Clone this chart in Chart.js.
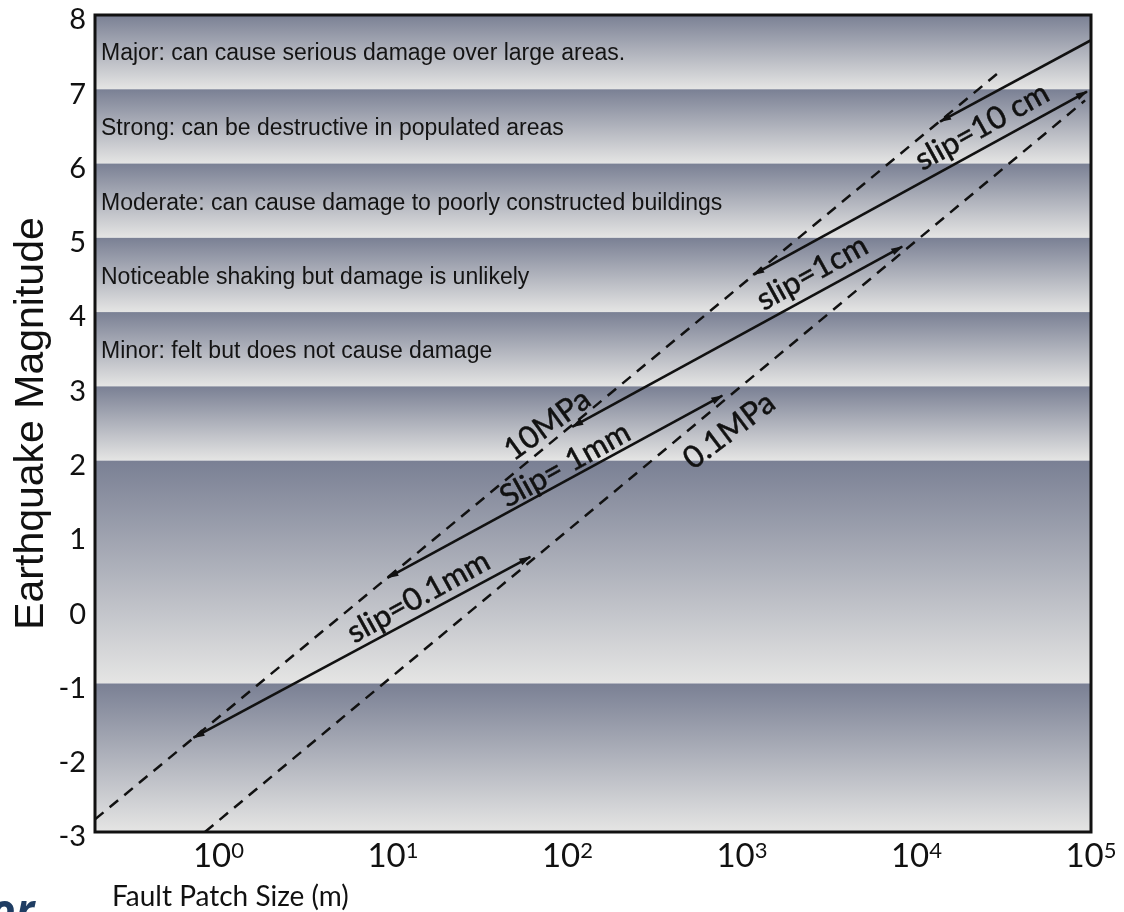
<!DOCTYPE html>
<html>
<head>
<meta charset="utf-8">
<script src="https://cdn.jsdelivr.net/npm/chart.js@4.4.1/dist/chart.umd.min.js"></script>
<style>
  html, body { margin: 0; padding: 0; background: #ffffff; }
  canvas { display: block; }
</style>
</head>
<body>
<canvas id="quakeChart" width="1124" height="912"></canvas>
<script>
// ---- magnitude bands (upper edge first) ----
const bandEdges = [8, 7, 6, 5, 4, 3, 2, -1, -3];
const bandTexts = [
  'Major: can cause serious damage over large areas.',
  'Strong: can be destructive in populated areas',
  'Moderate: can cause damage to poorly constructed buildings',
  'Noticeable shaking but damage is unlikely',
  'Minor: felt but does not cause damage'
];
const bandTextMag = [7.39, 6.38, 5.38, 4.38, 3.38];

// ---- axis ticks ----
const xTickExponents = [0, 1, 2, 3, 4, 5];
const yMin = -3;
const yMax = 8;
const xMin = 0.196;
const xMax = 100000;

// ---- stress-drop lines (fault size in m, magnitude) ----
const stress10MPaSize = [0.196, 30100];
const stress10MPaMag  = [-2.83, 7.24];
const stress01MPaSize = [0.836, 92500];
const stress01MPaMag  = [-3.0, 6.85];

// ---- constant-slip lines ----
const slip01mmSize = [0.719, 61.2];
const slip01mmMag  = [-1.73, 0.705];
const slip1mmSize  = [9.29, 771];
const slip1mmMag   = [0.422, 2.874];
const slip1cmSize  = [106.4, 8280];
const slip1cmMag   = [2.456, 4.881];
const slip10cmSize = [1159, 94800];
const slip10cmMag  = [4.504, 6.969];
const slip1mSize   = [13650, 100000];
const slip1mMag    = [6.565, 7.66];

// ---- line annotations ----
const lineLabelTexts = ['slip=0.1mm', 'Slip= 1mm', 'slip=1cm', 'slip=10 cm', '10MPa', '0.1MPa'];
const lineLabelSize  = [13.98, 97.1, 2523, 23770, 76.6, 845];
const lineLabelMag   = [0.166, 1.944, 4.531, 6.498, 2.483, 2.403];
const lineLabelAngle = [-29, -29, -29, -29, -36, -37];

function points(sizes, mags) {
  return sizes.map((s, i) => ({ x: s, y: mags[i] }));
}

function dashed(label, sizes, mags) {
  return {
    label, data: points(sizes, mags),
    borderColor: '#111111', borderWidth: 2.5, borderDash: [11, 8],
    pointRadius: 0, tension: 0, arrowEnds: 'none'
  };
}
function solid(label, sizes, mags, ends) {
  return {
    label, data: points(sizes, mags),
    borderColor: '#111111', borderWidth: 2.6,
    pointRadius: 0, tension: 0, arrowEnds: ends
  };
}

const datasets = [
  dashed('10MPa', stress10MPaSize, stress10MPaMag),
  dashed('0.1MPa', stress01MPaSize, stress01MPaMag),
  solid('slip=0.1mm', slip01mmSize, slip01mmMag, 'both'),
  solid('slip=1mm', slip1mmSize, slip1mmMag, 'both'),
  solid('slip=1cm', slip1cmSize, slip1cmMag, 'both'),
  solid('slip=10cm', slip10cmSize, slip10cmMag, 'both'),
  solid('slip=1m', slip1mSize, slip1mMag, 'start')
];

// Gradient bands and their descriptions, under the lines
const bandPlugin = {
  id: 'bandPlugin',
  beforeDatasetsDraw(chart) {
    const { ctx, chartArea: a, scales: { y } } = chart;
    ctx.save();
    ctx.beginPath();
    ctx.rect(a.left, a.top, a.right - a.left, a.bottom - a.top);
    ctx.clip();
    for (let i = 0; i < bandEdges.length - 1; i++) {
      const yTop = y.getPixelForValue(bandEdges[i]);
      const yBot = y.getPixelForValue(bandEdges[i + 1]);
      const g = ctx.createLinearGradient(0, yTop, 0, yBot);
      g.addColorStop(0, '#7a8094');
      g.addColorStop(1, '#e5e5e4');
      ctx.fillStyle = g;
      ctx.fillRect(a.left, yTop, a.right - a.left, yBot - yTop);
    }
    ctx.font = '23px "Liberation Sans", Arial, sans-serif';
    ctx.fillStyle = '#141414';
    ctx.textAlign = 'left';
    ctx.textBaseline = 'alphabetic';
    bandTexts.forEach((t, i) => {
      ctx.fillText(t, a.left + 6, y.getPixelForValue(bandTextMag[i]));
    });
    ctx.restore();
  }
};

function arrowHead(ctx, tip, from) {
  const ang = Math.atan2(tip.y - from.y, tip.x - from.x);
  ctx.save();
  ctx.translate(tip.x, tip.y);
  ctx.rotate(ang);
  ctx.beginPath();
  ctx.moveTo(1, 0);
  ctx.lineTo(-11, -3.6);
  ctx.lineTo(-11, 3.6);
  ctx.closePath();
  ctx.fill();
  ctx.restore();
}

// Arrowheads, rotated line labels and the frame
const annotatePlugin = {
  id: 'annotatePlugin',
  afterDatasetsDraw(chart) {
    const { ctx, chartArea: a, scales: { x, y } } = chart;
    ctx.save();
    ctx.fillStyle = '#111111';
    chart.data.datasets.forEach((ds, i) => {
      if (ds.arrowEnds === 'none') return;
      const pts = chart.getDatasetMeta(i).data;
      const p0 = pts[0], p1 = pts[pts.length - 1];
      if (ds.arrowEnds === 'both' || ds.arrowEnds === 'start') arrowHead(ctx, p0, p1);
      if (ds.arrowEnds === 'both' || ds.arrowEnds === 'end') arrowHead(ctx, p1, p0);
    });

    ctx.font = '31px Lato, "Open Sans", sans-serif';
    ctx.textAlign = 'center';
    ctx.textBaseline = 'middle';
    ctx.strokeStyle = '#111111';
    ctx.lineWidth = 0.5;
    lineLabelTexts.forEach((t, i) => {
      const px = x.getPixelForValue(lineLabelSize[i]);
      const py = y.getPixelForValue(lineLabelMag[i]);
      ctx.save();
      ctx.translate(px, py);
      ctx.rotate(lineLabelAngle[i] * Math.PI / 180);
      ctx.fillText(t, 0, 0);
      ctx.strokeText(t, 0, 0);
      ctx.restore();
    });

    ctx.lineWidth = 3;
    ctx.strokeRect(a.left, a.top, a.right - a.left, a.bottom - a.top);
    ctx.restore();
  },
  afterDraw(chart) {
    const { ctx, chartArea: a, scales: { x } } = chart;
    ctx.save();
    ctx.fillStyle = '#111111';
    ctx.textAlign = 'left';
    ctx.textBaseline = 'alphabetic';
    // power-of-ten tick labels
    x.ticks.forEach((tk) => {
      const e = Math.round(Math.log10(tk.value));
      const px = x.getPixelForValue(tk.value);
      ctx.font = '33px Lato, sans-serif';
      const wBase = ctx.measureText('10').width;
      ctx.font = '22px Lato, sans-serif';
      const wExp = ctx.measureText(String(e)).width;
      const start = px - (wBase + wExp) / 2;
      ctx.font = '33px Lato, sans-serif';
      ctx.fillText('10', start, a.bottom + 35);
      ctx.font = '22px Lato, sans-serif';
      ctx.fillText(String(e), start + wBase, a.bottom + 26);
    });
    // axis title
    ctx.font = '28px Lato, sans-serif';
    ctx.fillText('Fault Patch Size (m)', 112, a.bottom + 74);
    // corner mark
    ctx.fillStyle = '#1f3d63';
    ctx.font = 'italic bold 44px "Open Sans", sans-serif';
    ctx.fillText('or', -10, 926);
    ctx.restore();
  }
};

new Chart(document.getElementById('quakeChart'), {
  type: 'line',
  data: { datasets },
  options: {
    responsive: false,
    animation: false,
    parsing: true,
    layout: { padding: { top: 15, right: 33, bottom: 0, left: 0 } },
    plugins: { legend: { display: false }, tooltip: { enabled: false } },
    scales: {
      x: {
        type: 'logarithmic',
        min: xMin,
        max: xMax,
        grid: { display: false, drawTicks: false },
        border: { display: false },
        ticks: { display: false },
        afterBuildTicks(scale) {
          scale.ticks = xTickExponents.map(e => ({ value: Math.pow(10, e) }));
        },
        afterFit(scale) {
          scale.height = 80;
          scale.paddingLeft = 0;
          scale.paddingRight = 0;
        }
      },
      y: {
        type: 'linear',
        min: yMin,
        max: yMax,
        grid: { display: false, drawTicks: false },
        border: { display: false },
        ticks: {
          stepSize: 1,
          padding: 9,
          labelOffset: 5,
          color: '#111111',
          font: { family: 'Lato, sans-serif', size: 29 },
          callback: (v) => String(v)
        },
        title: {
          display: true,
          text: 'Earthquake Magnitude',
          color: '#111111',
          font: { family: '"Liberation Sans", Arial, sans-serif', size: 41, weight: 'normal' },
          padding: { top: 7, bottom: 0 }
        },
        afterFit(scale) {
          scale.width = 95;
          scale.paddingTop = 0;
          scale.paddingBottom = 0;
        }
      }
    }
  },
  plugins: [bandPlugin, annotatePlugin]
});
</script>
</body>
</html>
